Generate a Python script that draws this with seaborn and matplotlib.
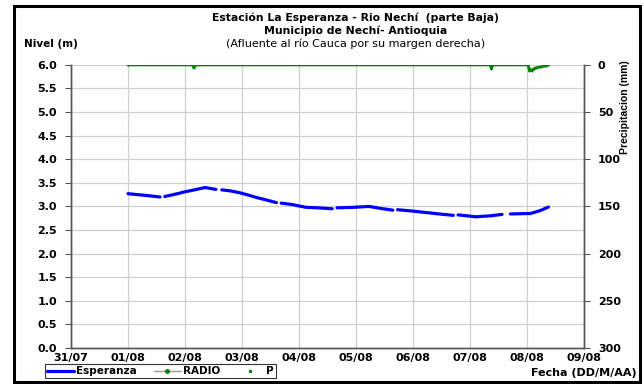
import numpy as np
import pandas as pd
import matplotlib
matplotlib.use("Agg")
import matplotlib.pyplot as plt
from matplotlib.lines import Line2D
from matplotlib.patches import Rectangle
import seaborn as sns

# DATA
######################################################
# hours counted from 01/08 00:00, NaN = missing record (gap in the line)
esp_horas = [0, 4, 8, 13.5, np.nan,
             15.5, 20, 24, 27, 32.5, 37, np.nan,
             39.5, 43, 47, 51, 54, 58, 62.5, np.nan,
             64.5, 69, 75, 80, 86, np.nan,
             88, 95, 101.5, 106, 111.5, np.nan,
             113.5, 120, 125.5, 131, 137, np.nan,
             139, 146.5, 152.5, 157.5, np.nan,
             161, 169.5, 173.5, 177]
esp_nivel = [3.27, 3.25, 3.23, 3.20, np.nan,
             3.21, 3.26, 3.31, 3.34, 3.40, 3.36, np.nan,
             3.35, 3.33, 3.29, 3.235, 3.19, 3.14, 3.08, np.nan,
             3.07, 3.04, 2.98, 2.97, 2.95, np.nan,
             2.97, 2.98, 3.00, 2.96, 2.92, np.nan,
             2.93, 2.90, 2.87, 2.84, 2.81, np.nan,
             2.82, 2.78, 2.80, 2.83, np.nan,
             2.84, 2.85, 2.91, 2.985]

radio_horas = [0, 27, 27.7, 28.5, 152.5, 153, 153.5, 168.5, 169, 169.5, 170, 171, 172, 174, 176, 177]
radio_precip = [0, 0, 3, 0, 0, 4, 0, 0, 6, 5, 6, 4, 3, 2, 1, 0]

fechas = ["31/07", "01/08", "02/08", "03/08", "04/08", "05/08", "06/08", "07/08", "08/08", "09/08"]
nivel_ticks = [0.0, 0.5, 1.0, 1.5, 2.0, 2.5, 3.0, 3.5, 4.0, 4.5, 5.0, 5.5, 6.0]
precip_ticks = [0, 50, 100, 150, 200, 250, 300]

# build dataframes, each run between NaN is one "tramo"
esp = pd.DataFrame({"horas": esp_horas, "nivel": esp_nivel})
esp["tramo"] = esp["nivel"].isna().cumsum()
esp = esp.dropna()
esp["dia"] = 1 + esp["horas"] / 24.0

radio = pd.DataFrame({"horas": radio_horas, "precip": radio_precip})
radio["dia"] = 1 + radio["horas"] / 24.0

# PLOT
######################################################
sns.set_style("white")
plt.rcParams["font.family"] = ["DejaVu Sans"]
plt.rcParams["text.color"] = "black"

fig = plt.figure(figsize=(6.43, 3.84), dpi=100)
ax = fig.add_axes([0.1104, 0.094, 0.7978, 0.737])
ax2 = ax.twinx()

sns.lineplot(data=esp, x="dia", y="nivel", units="tramo", estimator=None,
             color="#0000ff", lw=2.3, ax=ax)
sns.lineplot(data=radio, x="dia", y="precip", color="#008000", lw=2.0,
             marker="o", markersize=1.5, markeredgewidth=0, ax=ax2)

ax.set_xlim(0, 9)
ax.set_ylim(0, 6)
ax2.set_ylim(300, 0)
ax.set_xticks(range(len(fechas)))
ax.set_xticklabels(fechas)
ax.set_yticks(nivel_ticks)
ax.set_yticklabels(["%.1f" % v for v in nivel_ticks])
ax2.set_yticks(precip_ticks)
ax.set_xlabel("")
ax.set_ylabel("")
ax2.set_ylabel("")

ax.grid(True, color="#cfcfcf", lw=0.9)
ax.set_axisbelow(True)
ax.spines["top"].set_visible(False)
ax2.spines["top"].set_visible(False)
for a in [ax, ax2]:
    for s in ["left", "right", "bottom"]:
        a.spines[s].set_color("#555555")
        a.spines[s].set_linewidth(1.0)

ax.tick_params(axis="x", direction="out", length=3, width=0.8, color="#555555",
               labelcolor="black", labelsize=8, pad=0.5)
ax.tick_params(axis="y", direction="out", length=4, width=0.8, color="#555555",
               labelcolor="black", labelsize=8, pad=6)
ax2.tick_params(axis="y", direction="out", length=4, width=0.8, color="#555555",
                labelcolor="black", labelsize=8, pad=6)
for lab in ax.get_xticklabels() + ax.get_yticklabels() + ax2.get_yticklabels():
    lab.set_fontweight("bold")

# titles and axis names
fig.text(0.553, 0.955, "Estación La Esperanza - Rio Nechí  (parte Baja)", ha="center", va="center",
         fontsize=7.8, fontweight="bold")
fig.text(0.553, 0.921, "Municipio de Nechí- Antioquia", ha="center", va="center",
         fontsize=7.8, fontweight="bold")
fig.text(0.553, 0.885, "(Afluente al río Cauca por su margen derecha)", ha="center", va="center",
         fontsize=8)
fig.text(0.038, 0.885, "Nivel (m)", ha="left", va="center", fontsize=7.5, fontweight="bold")
fig.text(0.972, 0.722, "Precipitacion (mm)", ha="center", va="center", rotation=90,
         fontsize=7.5, fontweight="bold", family=["Liberation Sans", "DejaVu Sans"])
fig.text(0.99, 0.029, "Fecha (DD/M/AA)", ha="right", va="center", fontsize=8, fontweight="bold")

# legend
handles = [Line2D([], [], color="#0000ff", lw=2.3),
           Line2D([], [], color="#999999", lw=1.0, marker="o", markersize=2.5,
                  markerfacecolor="#008000", markeredgecolor="#008000"),
           Line2D([], [], color="#008000", lw=0, marker="o", markersize=1.5)]
leg = fig.legend(handles, ["Esperanza", "RADIO", "P"], loc="center left",
                 bbox_to_anchor=(0.062, 0.033), ncol=3, frameon=True, fancybox=False,
                 prop={"weight": "bold", "size": 7.5}, handlelength=2.6,
                 handletextpad=0.2, columnspacing=1.6, borderpad=0.2)
leg.get_frame().set_edgecolor("black")
leg.get_frame().set_linewidth(0.8)
if ax2.get_legend():
    ax2.get_legend().remove()

# outer frame
fig.patches.append(Rectangle((0.021, 0.004), 0.975, 0.98, transform=fig.transFigure,
                             fill=False, edgecolor="black", lw=2.2))

fig.savefig("out.png", dpi=100)
